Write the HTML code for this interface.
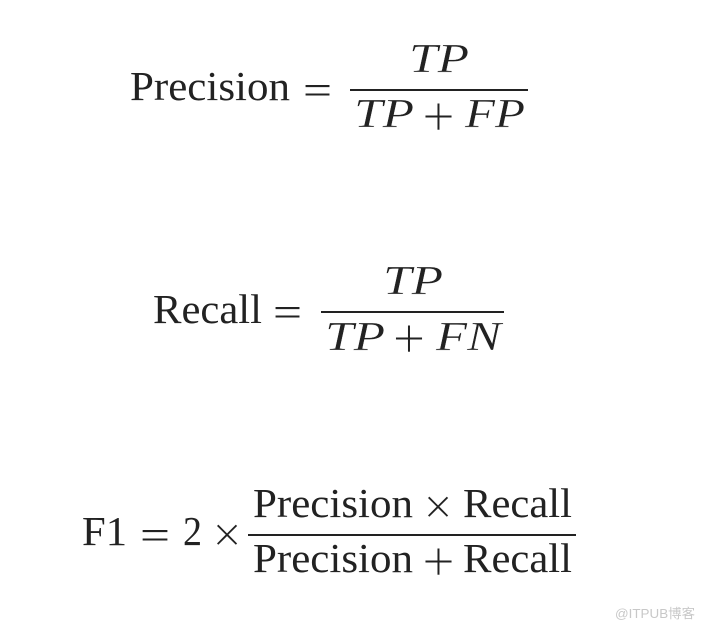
<!DOCTYPE html>
<html><head><meta charset="utf-8"><style>
html,body{margin:0;padding:0;background:#fff}
svg{display:block}
text{font-family:"Liberation Serif",serif;font-size:41px;fill:#222}
.i{font-style:italic;stroke:#fff;stroke-width:.3px}
.eq{font-size:41px}
.p{font-size:58px;text-anchor:middle;stroke:#fff;stroke-width:.9px}
.x{font-size:52px;text-anchor:middle;stroke:#fff;stroke-width:.7px}
</style></head><body>
<svg width="704" height="628" viewBox="0 0 704 628" xmlns="http://www.w3.org/2000/svg">
<text x="130" y="100" textLength="160" lengthAdjust="spacingAndGlyphs">Precision</text>
<text x="303" y="104" textLength="29" lengthAdjust="spacingAndGlyphs" class="eq">=</text>
<text x="409" y="72" textLength="60" lengthAdjust="spacingAndGlyphs" class="i">TP</text>
<rect x="350" y="89" width="178" height="2" fill="#222"/>
<text x="354" y="127" textLength="60" lengthAdjust="spacingAndGlyphs" class="i">TP</text>
<text x="438.5" y="136" class="p">+</text>
<text x="465" y="127" textLength="60" lengthAdjust="spacingAndGlyphs" class="i">FP</text>

<text x="153" y="323" textLength="109" lengthAdjust="spacingAndGlyphs">Recall</text>
<text x="273" y="326" textLength="29" lengthAdjust="spacingAndGlyphs" class="eq">=</text>
<text x="383" y="294" textLength="60" lengthAdjust="spacingAndGlyphs" class="i">TP</text>
<rect x="321" y="311" width="183" height="2" fill="#222"/>
<text x="325" y="350" textLength="60" lengthAdjust="spacingAndGlyphs" class="i">TP</text>
<text x="409" y="358" class="p">+</text>
<text x="436" y="350" textLength="65" lengthAdjust="spacingAndGlyphs" class="i">FN</text>

<text x="82" y="545" textLength="45" lengthAdjust="spacingAndGlyphs">F1</text>
<text x="140" y="549" textLength="30" lengthAdjust="spacingAndGlyphs" class="eq">=</text>
<text x="183" y="545" textLength="19" lengthAdjust="spacingAndGlyphs">2</text>
<text x="227" y="552" class="x">×</text>
<text x="253" y="517" textLength="160" lengthAdjust="spacingAndGlyphs">Precision</text>
<text x="438" y="524" class="x">×</text>
<text x="463" y="517" textLength="109" lengthAdjust="spacingAndGlyphs">Recall</text>
<rect x="248" y="534" width="328" height="2" fill="#222"/>
<text x="253" y="572" textLength="160" lengthAdjust="spacingAndGlyphs">Precision</text>
<text x="438.5" y="581" class="p">+</text>
<text x="463" y="572" textLength="109" lengthAdjust="spacingAndGlyphs">Recall</text>

<text x="615" y="618" textLength="80" lengthAdjust="spacingAndGlyphs" style="font-family:'Liberation Sans','Noto Sans CJK SC',sans-serif;font-size:13px;fill:#c8c8c8">@ITPUB博客</text>
</svg>
</body></html>
